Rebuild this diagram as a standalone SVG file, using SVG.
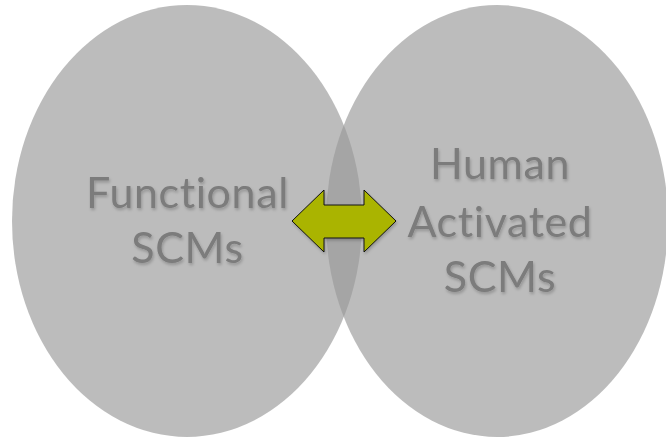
<svg xmlns="http://www.w3.org/2000/svg" width="666" height="439" viewBox="0 0 666 439">
<defs>
<style>
.ell{fill:#9a9a9a;fill-opacity:0.66}
.lbl{font-family:Lato,"Open Sans",sans-serif;font-size:43px;letter-spacing:0.6px;fill:#7b7b7b;text-anchor:middle}
.arr{fill:#aab400;stroke:#111;stroke-width:1}
</style>
<filter id="sh" x="-10%" y="-10%" width="120%" height="130%">
<feDropShadow dx="1" dy="2" stdDeviation="1.5" flood-color="#000" flood-opacity="0.22"/>
</filter>
</defs>
<rect width="666" height="439" fill="#fff"/>
<g id="functional">
<ellipse class="ell" cx="187" cy="221" rx="175" ry="216"/>
<text class="lbl" filter="url(#sh)"><tspan x="187.5" y="208">Functional</tspan><tspan x="187.5" y="263">SCMs</tspan></text>
</g>
<g id="human">
<ellipse class="ell" cx="497" cy="221" rx="171" ry="216"/>
<text class="lbl" filter="url(#sh)"><tspan x="500" y="179">Human</tspan><tspan x="500" y="237">Activated</tspan><tspan x="500" y="292">SCMs</tspan></text>
</g>
<g id="connectors">
<path class="arr" filter="url(#sh)" d="M292,221 L324,190 L324,205 L364,205 L364,190 L396,221 L364,252 L364,238 L324,238 L324,252 Z"/>
</g>
</svg>
